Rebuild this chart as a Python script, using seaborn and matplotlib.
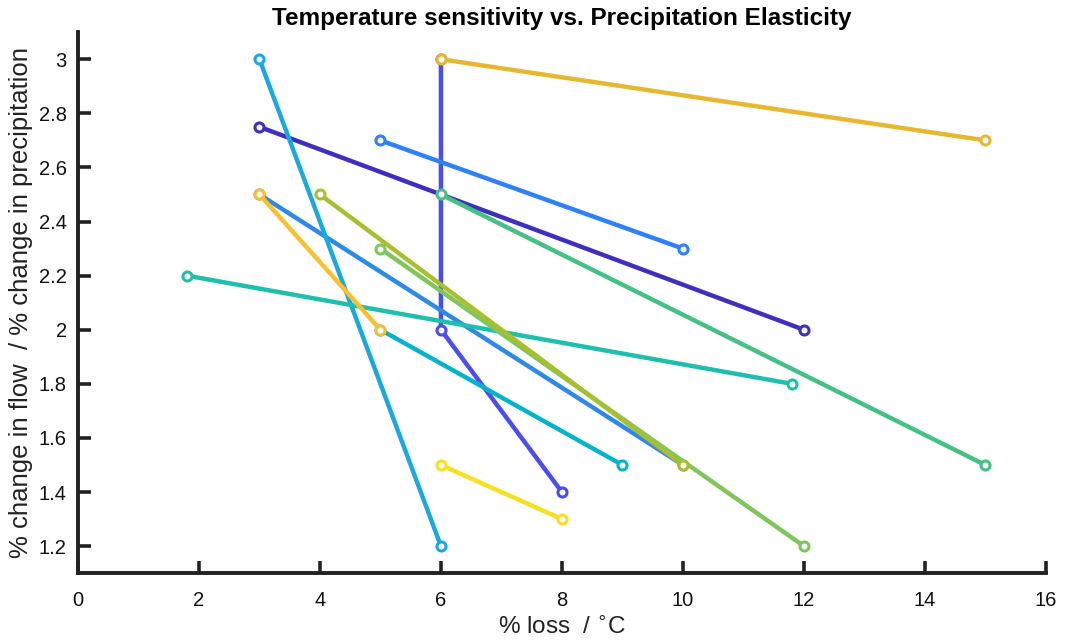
import matplotlib
matplotlib.use("Agg")
import matplotlib.pyplot as plt
import seaborn as sns
import pandas as pd

# Data: each line is a list of (x, y) points
line_ids = ["L1", "L2", "L3", "L4", "L5", "L6", "L7", "L8", "L9", "L10", "L11", "L12", "L13"]
line_x = [
    [3, 12],
    [6, 6, 8],
    [5, 10],
    [3, 10],
    [3, 6],
    [5, 9],
    [1.8, 11.8],
    [6, 15],
    [5, 12],
    [4, 10],
    [6, 15],
    [3, 5],
    [6, 8],
]
line_y = [
    [2.75, 2.0],
    [3.0, 2.0, 1.4],
    [2.7, 2.3],
    [2.5, 1.5],
    [3.0, 1.2],
    [2.0, 1.5],
    [2.2, 1.8],
    [2.5, 1.5],
    [2.3, 1.2],
    [2.5, 1.5],
    [3.0, 2.7],
    [2.5, 2.0],
    [1.5, 1.3],
]
line_colors = ["#3f2fbf", "#4a4ef0", "#3080f8", "#2d8ae6", "#1aa8e0", "#05b4cc",
               "#1fbfae", "#45c185", "#80c65a", "#a9bf30", "#e5b830", "#f9c02f", "#f5e021"]

x_ticks = [0, 2, 4, 6, 8, 10, 12, 14, 16]
y_ticks = [1.2, 1.4, 1.6, 1.8, 2.0, 2.2, 2.4, 2.6, 2.8, 3.0]
y_tick_labels = ["1.2", "1.4", "1.6", "1.8", "2", "2.2", "2.4", "2.6", "2.8", "3"]

rows = []
for lid, xs, ys in zip(line_ids, line_x, line_y):
    for i, (xv, yv) in enumerate(zip(xs, ys)):
        rows.append({"line": lid, "order": i, "x": xv, "y": yv})
df = pd.DataFrame(rows)

sns.set_style("white")
plt.rcParams["font.family"] = ["Liberation Sans", "DejaVu Sans"]

fig = plt.figure(figsize=(10.65, 6.44), dpi=100)
ax = fig.add_axes([0.0732, 0.110, 0.9088, 0.840])

sns.lineplot(data=df, x="x", y="y", hue="line", hue_order=line_ids,
             palette=line_colors, estimator=None, sort=False, units=None,
             marker="o", markersize=6.5, linewidth=3.2, legend=False, ax=ax)

for ln in ax.lines:
    c = ln.get_color()
    ln.set_markeredgecolor(c)
    ln.set_markerfacecolor("white")
    ln.set_markeredgewidth(2.2)

ax.set_xlim(0, 16)
ax.set_ylim(1.1, 3.1)
ax.set_xticks(x_ticks)
ax.set_xticklabels([str(t) for t in x_ticks])
ax.set_yticks(y_ticks)
ax.set_yticklabels(y_tick_labels)

for side in ["top", "right"]:
    ax.spines[side].set_visible(False)
for side in ["left", "bottom"]:
    ax.spines[side].set_visible(True)
    ax.spines[side].set_linewidth(2.8)
    ax.spines[side].set_color("#222222")

ax.tick_params(bottom=True, left=True, top=False, right=False,
               direction="in", length=9, width=2.6, colors="#222222",
               labelsize=14.5, labelcolor="#111111")
ax.tick_params(axis="x", pad=13)
ax.tick_params(axis="y", pad=8)

ax.set_title("Temperature sensitivity vs. Precipitation Elasticity",
             fontsize=17.5, fontweight="bold", pad=5, color="black")
ax.set_xlabel(r"% loss  / $^{\circ}$C", fontsize=17.5, color="#222222", labelpad=5)
ax.set_ylabel("% change in flow  / % change in precipitation", fontsize=18.5,
              color="#222222", labelpad=4)

fig.savefig("out.png", dpi=100)
